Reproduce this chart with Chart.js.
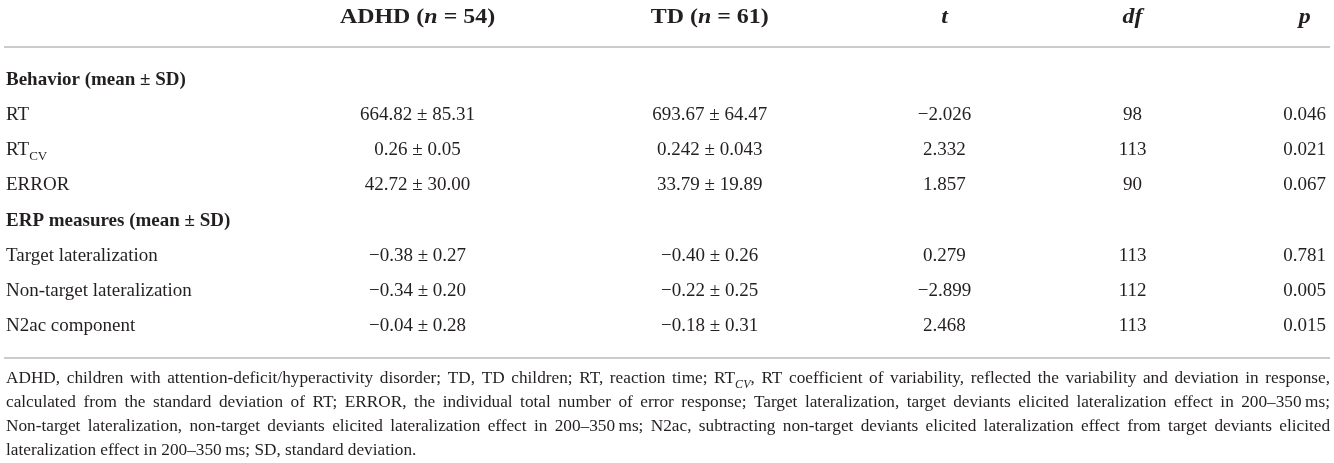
<!DOCTYPE html>
<html>
<head>
<meta charset="utf-8">
<script src="https://cdn.jsdelivr.net/npm/chart.js@4.4.1/dist/chart.umd.min.js"></script>
<style>
  html, body { margin: 0; padding: 0; background: #fff; }
  canvas { display: block; }
</style>
</head>
<body>
<canvas id="chart-table" width="1334" height="463"></canvas>
<script>
// Table data
const rowLabels = ['Behavior (mean ± SD)', 'RT', 'RT_CV', 'ERROR', 'ERP measures (mean ± SD)',
  'Target lateralization', 'Non-target lateralization', 'N2ac component'];
const sectionRows = ['Behavior (mean ± SD)', 'ERP measures (mean ± SD)'];
const valueRows = ['RT', 'RT_CV', 'ERROR', 'Target lateralization', 'Non-target lateralization', 'N2ac component'];

const adhdMean = [664.82, 0.26, 42.72, -0.38, -0.34, -0.04];
const adhdSD = [85.31, 0.05, 30.00, 0.27, 0.20, 0.28];
const tdMean = [693.67, 0.242, 33.79, -0.40, -0.22, -0.18];
const tdSD = [64.47, 0.043, 19.89, 0.26, 0.25, 0.31];
const tValues = [-2.026, 2.332, 1.857, 0.279, -2.899, 2.468];
const dfValues = [98, 113, 90, 113, 112, 113];
const pValues = [0.046, 0.021, 0.067, 0.781, 0.005, 0.015];

const footnoteLines = [
	'ADHD, children with attention-deficit/hyperactivity disorder; TD, TD children; RT, reaction time; RT_CV, RT coefficient of variability, reflected the variability and deviation in response,',
	'calculated from the standard deviation of RT; ERROR, the individual total number of error response; Target lateralization, target deviants elicited lateralization effect in 200–350\u2009ms;',
	'Non-target lateralization, non-target deviants elicited lateralization effect in 200–350\u2009ms; N2ac, subtracting non-target deviants elicited lateralization effect from target deviants elicited',
	'lateralization effect in 200–350\u2009ms; SD, standard deviation.',
];

// Utilities
const FAMILY = '"Liberation Serif", "DejaVu Serif", serif';
const INK = '#231f20';
const RULE = '#cbcbcb';

const decimals = (v) => {
	const s = String(Math.abs(v));
	return s.includes('.') ? s.split('.')[1].length : 0;
};
const minus = (s) => s.replace('-', '\u2212');
const fmt = (v, min) => minus(v.toFixed(Math.max(min, decimals(v))));
const meanSD = (m, sd) => m.map((v, i) => fmt(v, 2) + ' ± ' + fmt(sd[i], 2));

// column centres, in percent of the table width (layout only)
const colAt = { label: 0.45, adhd: 31.3, td: 53.2, t: 70.8, df: 84.9, p: 97.8 };

const headers = {
	adhd: [['ADHD (', 'b'], ['n', 'bi'], [' = 54)', 'b']],
	td: [['TD (', 'b'], ['n', 'bi'], [' = 61)', 'b']],
	t: [['t', 'bi']],
	df: [['df', 'bi']],
	p: [['p', 'bi']],
};

function font(style, size) {
	const w = style.includes('b') ? 'bold ' : '';
	const i = style.includes('i') ? 'italic ' : '';
	return i + w + size + 'px ' + FAMILY;
}

// split "RT_CV," style text into runs with a subscript
function runsOf(text, style, size, subItalic) {
	const m = text.match(/^(.*?)_([A-Z]+)(.*)$/);
	if (!m) return [[text, style, size, 0]];
	return [
		[m[1], style, size, 0],
		[m[2], style + (subItalic ? 'i' : ''), Math.round(size * 0.7), size * 0.28],
		[m[3], style, size, 0],
	];
}

function runsWidth(ctx, runs) {
	let w = 0;
	runs.forEach(([t, st, sz]) => {
		ctx.font = font(st, sz);
		w += ctx.measureText(t).width;
	});
	return w;
}

function drawRuns(ctx, runs, x, y, align, hs) {
	hs = hs || 1;
	const w = runsWidth(ctx, runs) * hs;
	const x0 = align === 'center' ? x - w / 2 : align === 'right' ? x - w : x;
	ctx.save();
	ctx.translate(x0, y);
	ctx.scale(hs, 1);
	ctx.textAlign = 'left';
	ctx.textBaseline = 'alphabetic';
	let cx = 0;
	runs.forEach(([t, st, sz, dy]) => {
		ctx.font = font(st, sz);
		ctx.fillText(t, cx, dy);
		cx += ctx.measureText(t).width;
	});
	ctx.restore();
}

const tablePlugin = {
	id: 'tableText',
	afterDatasetsDraw(chart) {
		const { ctx, chartArea, scales } = chart;
		const band = scales.y.getPixelForValue(1) - scales.y.getPixelForValue(0);
		const left = 4, right = chart.width - 4;
		ctx.save();
		ctx.fillStyle = INK;

		// header row
		const headY = chartArea.top - band * 1.25 + 6;
		Object.keys(headers).forEach((k) => {
			const runs = headers[k].map(([t, st]) => [t, st, 21, 0]);
			drawRuns(ctx, runs, scales.x.getPixelForValue(colAt[k]), headY, 'center', 1.14);
		});

		// rules
		ctx.strokeStyle = RULE;
		ctx.lineWidth = 2;
		[chartArea.top - band * 0.4, chartArea.bottom + band * 0.43].forEach((y) => {
			ctx.beginPath();
			ctx.moveTo(left, Math.round(y));
			ctx.lineTo(right, Math.round(y));
			ctx.stroke();
		});

		// cells, placed at the points the scales gave each dataset
		chart.data.datasets.forEach((ds, di) => {
			chart.getDatasetMeta(di).data.forEach((pt, i) => {
				const text = ds.cells[i];
				const bold = sectionRows.includes(text);
				const runs = runsOf(text, bold ? 'b' : '', 19, false);
				drawRuns(ctx, runs, pt.x, pt.y + 6, ds.align);
			});
		});

		// footnote, justified
		let size = 17.25;
		const avail = right - left - 2;
		const lineRuns = (line, sz) => line.split(' ').map((w) => runsOf(w, '', sz, true));
		const natural = (line, sz) => {
			const ws = lineRuns(line, sz);
			ctx.font = font('', sz);
			return ws.reduce((a, r) => a + runsWidth(ctx, r), 0) + ctx.measureText(' ').width * (ws.length - 1);
		};
		while (size > 12 && footnoteLines.slice(0, -1).some((l) => natural(l, size) > avail)) size -= 0.25;

		const footTop = chartArea.bottom + band * 0.43 + 25;
		footnoteLines.forEach((line, li) => {
			const words = lineRuns(line, size);
			const y = footTop + li * 24;
			const last = li === footnoteLines.length - 1;
			const widths = words.map((r) => runsWidth(ctx, r));
			ctx.font = font('', size);
			const gap = last
				? ctx.measureText(' ').width
				: (avail - widths.reduce((a, b) => a + b, 0)) / (words.length - 1);
			let x = left + 2;
			words.forEach((r, wi) => {
				drawRuns(ctx, r, x, y, 'left');
				x += widths[wi] + gap;
			});
		});
		ctx.restore();
	},
};

!(function () {
	const ctx = document.getElementById('chart-table');
	const col = (key, rows, cells, align) => ({
		label: key,
		data: rows.map((r) => ({ x: colAt[key], y: r })),
		cells: cells,
		align: align || 'center',
		pointRadius: 0,
		pointHoverRadius: 0,
	});

	new Chart(ctx, {
		type: 'scatter',
		data: {
			datasets: [
				col('label', rowLabels, rowLabels, 'left'),
				col('adhd', valueRows, meanSD(adhdMean, adhdSD)),
				col('td', valueRows, meanSD(tdMean, tdSD)),
				col('t', valueRows, tValues.map((v) => fmt(v, 3))),
				col('df', valueRows, dfValues.map((v) => String(v))),
				col('p', valueRows, pValues.map((v) => fmt(v, 3))),
			],
		},
		options: {
			responsive: false,
			animation: false,
			layout: {
				padding: { top: 61, bottom: 120, left: 0, right: 0 },
			},
			scales: {
				x: { type: 'linear', min: 0, max: 100, display: false },
				y: { type: 'category', labels: rowLabels, offset: true, display: false },
			},
			plugins: {
				legend: { display: false },
				tooltip: { enabled: false },
			},
		},
		plugins: [tablePlugin],
	});
})();
</script>
</body>
</html>
